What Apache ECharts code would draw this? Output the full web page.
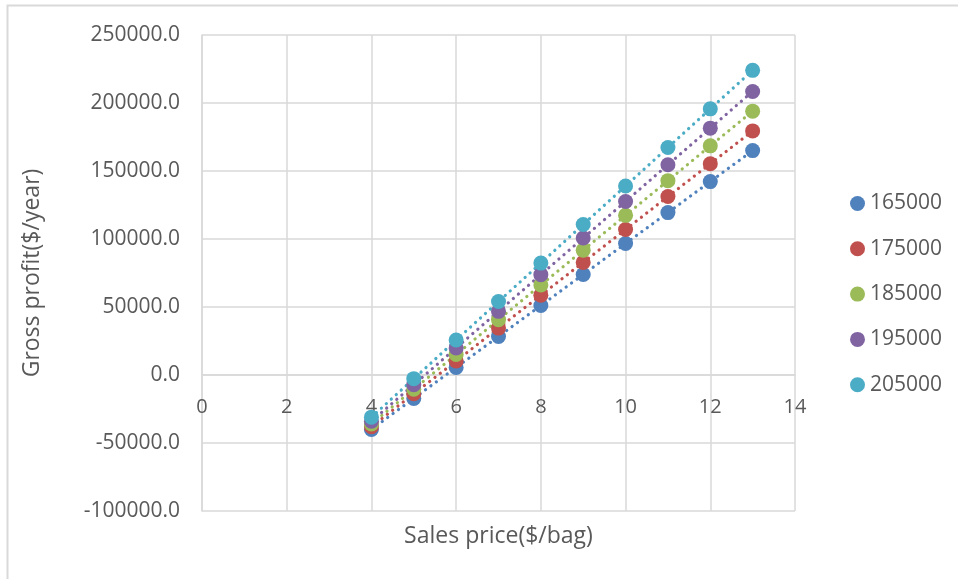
<!DOCTYPE html>
<html>
<head>
<meta charset="utf-8">
<style>
  html, body { margin: 0; padding: 0; background: #ffffff; }
  #chart { width: 958px; height: 579px; }
</style>
<script src="https://cdn.jsdelivr.net/npm/echarts@6/dist/echarts.min.js"></script>
</head>
<body>
<div id="chart"></div>
<script>
// Sales price ($/bag)
const prices = [4, 5, 6, 7, 8, 9, 10, 11, 12, 13];

// Annual sales volume scenarios (bags/year)
const volumes = ['165000', '175000', '185000', '195000', '205000'];

// Gross profit ($/year) per price, one list per volume scenario
const profit165000 = [-40000, -17200, 5600, 28300, 51100, 73900, 96700, 119400, 142200, 165000];
const profit175000 = [-38000, -13800, 10300, 34500, 58700, 82800, 107000, 131200, 155300, 179500];
const profit185000 = [-36000, -10400, 15100, 40700, 66200, 91800, 117400, 142900, 168500, 194000];
const profit195000 = [-34000, -7100, 19900, 46800, 73800, 100700, 127600, 154600, 181500, 208500];
const profit205000 = [-31000, -2700, 25700, 54000, 82300, 110700, 139000, 167300, 195700, 224000];

const profits = [profit165000, profit175000, profit185000, profit195000, profit205000];
const colors = ['#4F81BD', '#C0504D', '#9BBB59', '#8064A2', '#4BACC6'];

const FONT = '"Open Sans", "Noto Sans", sans-serif';
const TEXT = '#595959';
const GRID = '#d9d9d9';
const Y_MIN = -100000;

const series = [];
// dotted linear trendlines, drawn beneath the markers
volumes.forEach((v, i) => {
  series.push({
    name: v + ' trend',
    type: 'line',
    data: prices.map((p, k) => [p, profits[i][k]]),
    symbol: 'none',
    silent: true,
    z: 2,
    lineStyle: { color: colors[i], width: 3.2, type: [0.1, 6.6], cap: 'round' }
  });
});
volumes.forEach((v, i) => {
  series.push({
    name: v,
    type: 'scatter',
    data: prices.map((p, k) => [p, profits[i][k]]),
    symbol: 'circle',
    symbolSize: 15,
    z: 3,
    itemStyle: { color: colors[i], opacity: 1 }
  });
});

const chart = echarts.init(document.getElementById('chart'), null, { renderer: 'canvas' });
chart.setOption({
  animation: false,
  backgroundColor: '#ffffff',
  textStyle: { fontFamily: FONT },
  graphic: [{
    type: 'rect',
    shape: { x: 7.5, y: 5.5, width: 1000, height: 1000 },
    style: { fill: 'none', stroke: GRID, lineWidth: 2 },
    silent: true
  }],
  grid: { left: 202, right: 163, top: 35, bottom: 68, containLabel: false, outerBoundsMode: 'none' },
  legend: {
    data: volumes,
    orient: 'vertical',
    left: 845,
    top: 188,
    itemWidth: 15,
    itemHeight: 15,
    itemGap: 24.3,
    icon: 'circle',
    textStyle: { color: TEXT, fontSize: 21, fontFamily: FONT }
  },
  xAxis: {
    type: 'value',
    min: 0,
    max: 14,
    interval: 2,
    position: 'bottom',
    name: 'Sales price($/bag)',
    nameLocation: 'middle',
    nameGap: 150,
    nameTextStyle: { color: TEXT, fontSize: 23, fontFamily: FONT },
    axisLine: { onZero: false, lineStyle: { color: GRID, width: 1.5 } },
    axisTick: { show: false },
    axisLabel: { color: TEXT, fontSize: 20, fontFamily: FONT, margin: 22 },
    splitLine: { show: true, lineStyle: { color: GRID, width: 1.5 } }
  },
  yAxis: {
    type: 'value',
    min: Y_MIN,
    max: 250000,
    interval: 50000,
    name: 'Gross profit($/year)',
    nameLocation: 'middle',
    nameGap: 158,
    nameTextStyle: { color: TEXT, fontSize: 23, fontFamily: FONT },
    axisLine: { show: true, onZero: false, lineStyle: { color: GRID, width: 1.5 } },
    axisTick: { show: false },
    axisLabel: {
      color: TEXT, fontSize: 21, fontFamily: FONT, margin: 22,
      formatter: (val) => val.toFixed(1)
    },
    splitLine: { show: true, lineStyle: { color: GRID, width: 1.5 } }
  },
  series: series
});

// the horizontal axis crosses the vertical one at zero profit
const zeroPx = chart.convertToPixel({ yAxisIndex: 0 }, 0);
const minPx = chart.convertToPixel({ yAxisIndex: 0 }, Y_MIN);
chart.setOption({ xAxis: { offset: zeroPx - minPx } });
</script>
</body>
</html>
